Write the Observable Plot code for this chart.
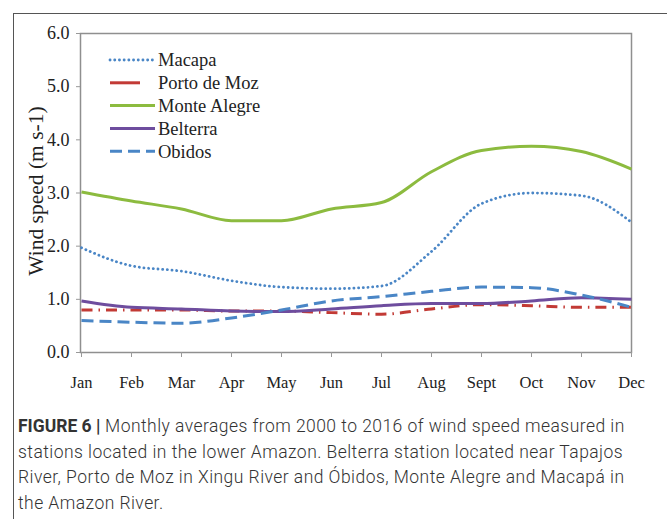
<!DOCTYPE html>
<html><head><meta charset="utf-8">
<script src="https://cdn.jsdelivr.net/npm/d3@7"></script>
<script src="https://cdn.jsdelivr.net/npm/@observablehq/plot@0.6"></script>
<style>
body{margin:0;background:#fff;width:667px;height:519px;overflow:hidden;position:relative;}
#frame{position:absolute;left:13px;top:13px;width:700px;height:600px;border-left:1.5px solid #555;border-top:1.5px solid #555;}
#chart{position:absolute;left:0;top:0;}
#legend{position:absolute;left:0;top:0;}
#caption{position:absolute;left:18px;top:414px;white-space:nowrap;font-family:Roboto,"Liberation Sans",sans-serif;font-weight:300;font-size:17.5px;letter-spacing:0.45px;line-height:25.5px;color:#333;}
#caption b{font-weight:700;color:#333;letter-spacing:0;}
</style></head><body>
<div id="frame"></div>
<div id="chart"></div>
<div id="legend"></div>
<div id="caption"><b>FIGURE 6 |</b> Monthly averages from 2000 to 2016 of wind speed measured in<br>stations located in the lower Amazon. Belterra station located near Tapajos<br>River, Porto de Moz in Xingu River and Óbidos, Monte Alegre and Macapá in<br>the Amazon River.</div>
<script>
const months = ["Jan","Feb","Mar","Apr","May","Jun","Jul","Aug","Sept","Oct","Nov","Dec"];
const yTicks = [0,1,2,3,4,5,6];
const macapa      = [1.97,1.63,1.53,1.35,1.23,1.20,1.25,1.90,2.80,3.00,2.95,2.45];
const portoDeMoz  = [0.80,0.80,0.80,0.78,0.78,0.75,0.72,0.82,0.90,0.88,0.85,0.85];
const monteAlegre = [3.02,2.85,2.70,2.48,2.48,2.70,2.82,3.40,3.80,3.88,3.78,3.45];
const belterra    = [0.97,0.85,0.82,0.78,0.77,0.82,0.88,0.92,0.92,0.97,1.03,1.00];
const obidos      = [0.60,0.57,0.55,0.65,0.80,0.97,1.05,1.15,1.23,1.22,1.08,0.85];

const seriesNames = ["Macapa","Porto de Moz","Monte Alegre","Belterra","Obidos"];
const seriesValues = [macapa, portoDeMoz, monteAlegre, belterra, obidos];
const seriesColors = ["#4a86c6","#c23a35","#8cbb3f","#6e4d9e","#4a86c6"];
const seriesDash = ["0.1,4.6","11,6,1.5,6",null,null,"12,6"];
const seriesWidth = [2.8,3,3,3,3];

const marks = [];
seriesNames.forEach((name,i)=>{
  const data = months.map((m,j)=>({month:m, value:seriesValues[i][j]}));
  marks.push(Plot.line(data,{x:"month",y:"value",stroke:seriesColors[i],strokeWidth:seriesWidth[i],
    strokeDasharray:seriesDash[i]||undefined, strokeLinecap: i===0?"round":"butt", curve:"monotone-x"}));
});

const chart = Plot.plot({
  width:667, height:400,
  marginLeft:80, marginTop:33, marginRight:36, marginBottom:48,
  style:{fontFamily:"'Liberation Serif', serif", color:"#222", background:"transparent"},
  x:{type:"point", domain:months, padding:0},
  y:{domain:[0,6]},
  marks:[
    Plot.frame({stroke:"#8f8f8f", strokeWidth:1.5}),
    Plot.axisY({ticks:yTicks, tickFormat:d3.format(".1f"), tickSize:4, tickPadding:7, fontSize:18, label:null, stroke:"#999"}),
    Plot.text(["Wind speed (m s-1)"], {frameAnchor:"left", textAnchor:"middle", rotate:-90, dx:-44, dy:-2, fontSize:21.5, fill:"#222"}),
    Plot.axisX({tickSize:5, tickPadding:19, fontSize:16.5, label:null, stroke:"#999"}),
    ...marks
  ]
});
document.getElementById("chart").appendChild(chart);

// legend
const lg = d3.select("#legend").append("svg").attr("width",667).attr("height",400);
seriesNames.forEach((name,i)=>{
  const y = 60 + i*22.8;
  lg.append("line").attr("x1",110).attr("x2", i===1?140:155).attr("y1",y).attr("y2",y)
    .attr("stroke",seriesColors[i]).attr("stroke-width",seriesWidth[i])
    .attr("stroke-dasharray", i===0?"0.1,4.6":(i===4?"12,6":null))
    .attr("stroke-linecap", i===0?"round":"butt");
  lg.append("text").attr("x",158).attr("y",y).attr("dy","0.35em")
    .attr("font-family","'Liberation Serif', serif").attr("font-size",18.5).attr("fill","#222").text(name);
});
</script>
</body></html>
